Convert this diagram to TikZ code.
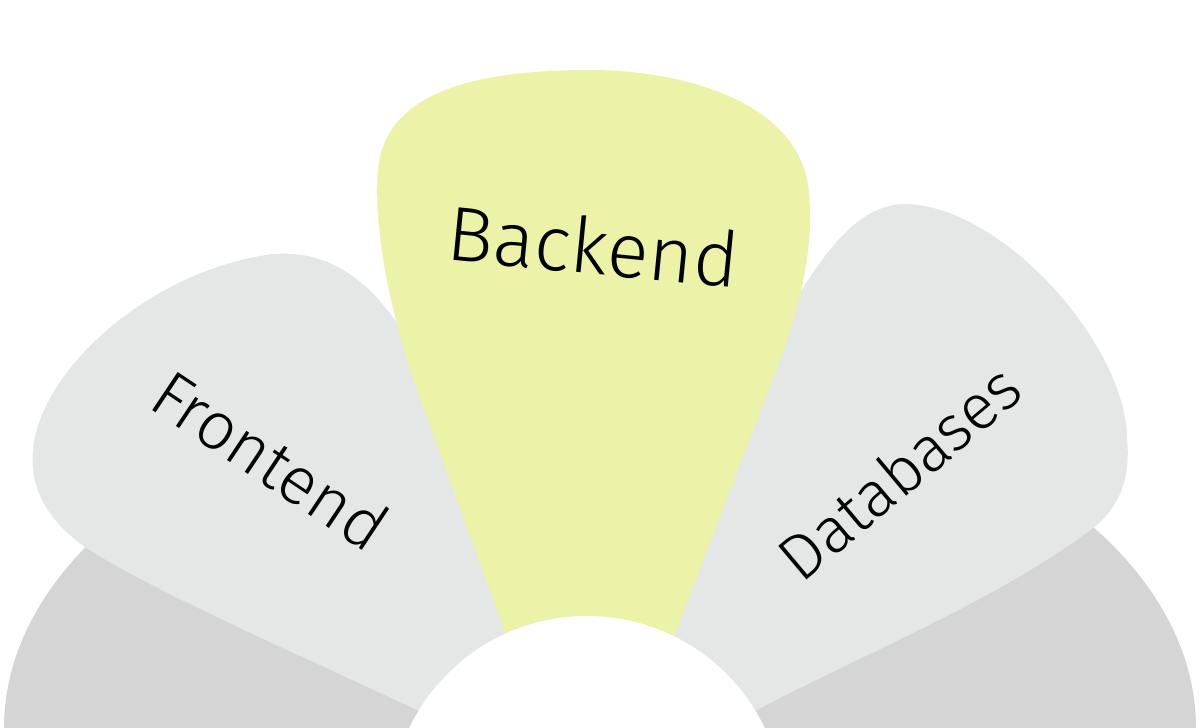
\documentclass[tikz,border=0pt]{standalone}
\usepackage{fontspec}
\newfontfamily\handfont{Fira Sans Light}
\definecolor{petalgray}{HTML}{E5E6E6}
\definecolor{basegray}{HTML}{D6D5D6}
\definecolor{petalyellow}{HTML}{ECF2A8}
\begin{document}
\begin{tikzpicture}[x=0.5pt,y=-0.5pt,
  petaltext/.style={text=black, inner sep=0pt, anchor=base}]
\useasboundingbox (0,0) rectangle (1200,728);
\clip (0,0) rectangle (1200,728);
% base
\fill[basegray] (600,728) ellipse [x radius=596, y radius=358];
% left petal
\fill[petalgray] (560,760) -- (470,737) -- (417,710)
  .. controls (300,655) and (150,590) .. (85,547)
  .. controls (40,515) and (30,480) .. (33,450)
  .. controls (40,370) and (150,270) .. (273,254)
  .. controls (330,250) and (370,280) .. (405,335)
  -- (470,470) -- cycle;
% right petal
\fill[petalgray] (620,770) -- (700,742) -- (757,710)
  .. controls (850,660) and (1000,600) .. (1097,525)
  .. controls (1125,500) and (1130,470) .. (1127,437)
  .. controls (1125,345) and (1005,208) .. (907,204)
  .. controls (865,203) and (830,240) .. (790,310)
  -- (730,470) -- cycle;
% middle petal
\fill[petalyellow] (515,660) -- (410,370)
  .. controls (385,290) and (374,220) .. (378,170)
  .. controls (385,90) and (480,70) .. (590,70)
  .. controls (680,70) and (795,100) .. (808,185)
  .. controls (817,250) and (795,320) .. (780,360)
  -- (665,660) -- cycle;
% centre
\fill[white] (587,813) circle [radius=197];
% labels
\node[petaltext, font=\handfont\fontsize{38.5}{44}\selectfont, rotate=-5.6] (backend) at (591,274) {Backend};
\node[petaltext, font=\handfont\fontsize{33.5}{40}\selectfont, rotate=-33.7] (frontend) at (257,480) {Frontend};
\node[petaltext, font=\handfont\fontsize{32}{38}\selectfont, rotate=40] (databases) at (914,490) {Databases};
\end{tikzpicture}
\end{document}
